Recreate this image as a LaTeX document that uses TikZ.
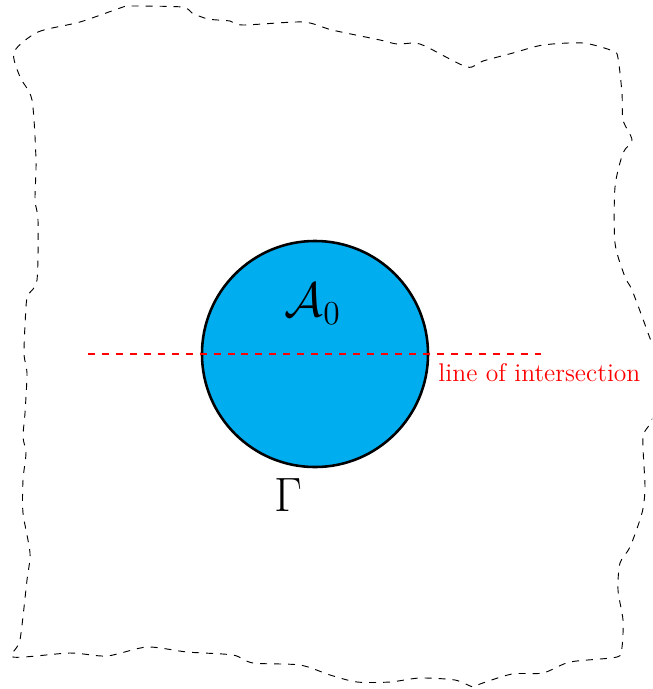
\documentclass[tikz,border=0pt]{standalone}
\usepackage{tikz}
\usetikzlibrary{positioning}
\definecolor{inclblue}{RGB}{0,174,239}
\definecolor{cutred}{RGB}{255,0,0}

\begin{document}
\begin{tikzpicture}[
    x=0.43pt, y=-0.43pt,
    boundary/.style={dashed, thin, draw=black},
    incl/.style={
        circle, draw=black, line width=1.1pt, fill=inclblue,
        minimum size=97.2pt, inner sep=0pt
    },
    cutline/.style={dashed, line width=0.7pt, draw=cutred},
    cutlabel/.style={font=\fontsize{11}{13}\selectfont, text=cutred, inner sep=0pt},
    symb/.style={font=\huge, inner sep=0pt}
]
\useasboundingbox (0,0) rectangle (652,689);

% === Outer (wavy) boundary ===
\begin{scope}
\clip (0,0) rectangle (652,689);
\draw[boundary] plot[smooth cycle, tension=0.45] coordinates {
    (14,52) (38,32) (80,22) (123,7) (130,6) (182,7) (192,13) (208,19)
    (230,21) (243,25) (303,22) (332,30) (380,40) (397,44) (415,43)
    (427,47) (467,67) (483,61) (513,53) (543,45) (583,43) (613,51)
    (618,58) (622,93) (623,120) (632,140) (623,153) (615,187) (615,243)
    (625,277) (632,290) (648,333) (662,375) (652,420) (643,437)
    (645,487) (642,513) (630,547) (620,563) (618,590) (623,620)
    (622,647) (617,657) (570,662) (543,673) (512,674) (480,684)
    (473,687) (455,680) (420,678) (390,682) (357,682) (330,675)
    (300,665) (253,663) (233,655) (187,652) (147,647) (107,656)
    (70,653) (13,657) (20,640) (27,580) (30,553) (23,513) (23,480)
    (26,453) (23,437) (25,413) (27,373) (24,353) (26,307) (28,295)
    (37,280) (38,220) (35,200) (36,160) (32,100) (20,77)
};
\end{scope}

% === Inclusion ===
\node[incl] (A0) at (315,354) {};
\node[symb] (A0lab) at (313,304) {$\mathcal{A}_0$};
\node[symb] (Gam) at (288,495) {$\Gamma$};

% === Line of intersection ===
\coordinate (cutL) at (88,354);
\coordinate (cutR) at (543,354);
\draw[cutline] (cutL) -- (cutR);
\node[cutlabel, anchor=base west] (cutlab) at (438,381) {line of intersection};

\end{tikzpicture}
\end{document}
